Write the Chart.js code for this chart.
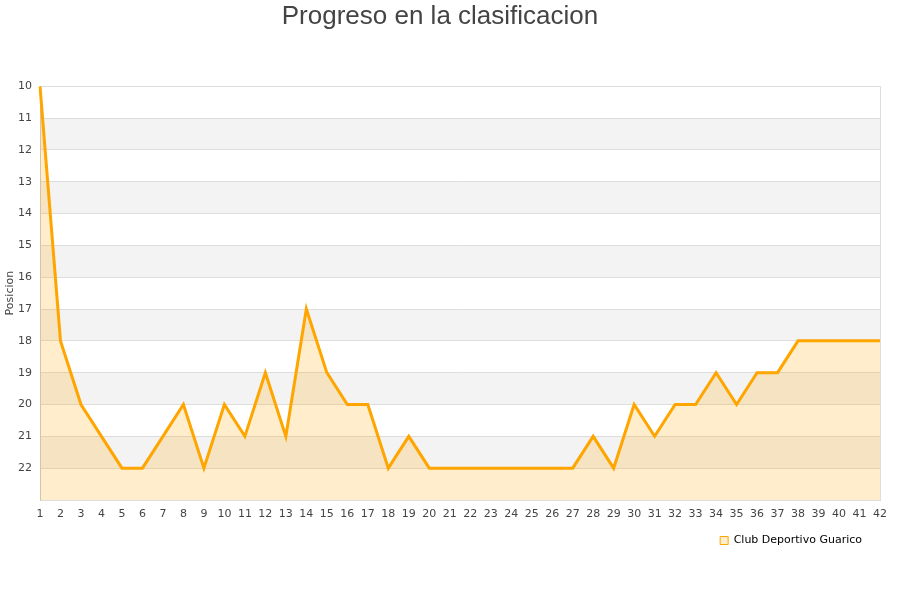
<!DOCTYPE html>
<html>
<head>
<meta charset="utf-8">
<script src="https://cdn.jsdelivr.net/npm/chart.js@4/dist/chart.umd.min.js"></script>
<style>
    html, body { margin: 0; padding: 0; background: #fff; }
    #wrap { width: 900px; height: 600px; }
</style>
</head>
<body>
<div id="wrap"><canvas id="posChart" width="900" height="600"></canvas></div>
<script>
// Jornadas (x axis)
const jornadas = [1, 2, 3, 4, 5, 6, 7, 8, 9, 10, 11, 12, 13, 14, 15, 16, 17, 18, 19, 20, 21,
    22, 23, 24, 25, 26, 27, 28, 29, 30, 31, 32, 33, 34, 35, 36, 37, 38, 39, 40, 41, 42];
// Posicion of the team after each jornada
const posiciones = [10, 18, 20, 21, 22, 22, 21, 20, 22, 20, 21, 19, 21, 17, 19, 20, 20, 22, 21, 22, 22,
    22, 22, 22, 22, 22, 22, 21, 22, 20, 21, 20, 20, 19, 20, 19, 19, 18, 18, 18, 18, 18];
const equipo = "Club Deportivo Guarico";
const posMin = 10;
const posMax = 23;

// alternating grey bands behind the plot
const bandsPlugin = {
    id: "bands",
    beforeDraw(chart) {
        const { ctx, chartArea, scales } = chart;
        const y = scales.y;
        ctx.save();
        ctx.fillStyle = "#f3f3f3";
        for (let v = posMin + 1; v < posMax; v += 2) {
            const top = y.getPixelForValue(v);
            const bottom = y.getPixelForValue(v + 1);
            ctx.fillRect(chartArea.left, top, chartArea.right - chartArea.left, bottom - top);
        }
        ctx.restore();
    },
    beforeDatasetsDraw(chart) {
        const { ctx, chartArea } = chart;
        ctx.save();
        ctx.strokeStyle = "#dddddd";
        ctx.lineWidth = 1;
        ctx.beginPath();
        ctx.moveTo(chartArea.right + 0.5, chartArea.top);
        ctx.lineTo(chartArea.right + 0.5, chartArea.bottom);
        ctx.stroke();
        ctx.restore();
    }
};

document.addEventListener("DOMContentLoaded", function () {
    const ctx = document.getElementById("posChart").getContext("2d");

    new Chart(ctx, {
        type: "line",
        data: {
            labels: jornadas,
            datasets: [
                {
                    label: equipo,
                    data: posiciones,
                    borderColor: "#ffa500",
                    backgroundColor: "rgba(255, 165, 0, 0.2)",
                    borderWidth: 3,
                    pointRadius: 0,
                    tension: 0,
                    fill: "start",
                },
            ],
        },
        options: {
            responsive: false,
            animation: false,
            layout: {
                padding: { top: 1, left: 0, right: 20, bottom: 44 },
            },
            plugins: {
                title: {
                    display: true,
                    text: "Progreso en la clasificacion",
                    color: "#444444",
                    font: { family: "'Liberation Sans', Arial, sans-serif", size: 26, weight: "normal" },
                    padding: { top: 0, bottom: 54 },
                },
                legend: {
                    display: true,
                    position: "bottom",
                    align: "end",
                    labels: {
                        color: "#000000",
                        boxWidth: 8,
                        boxHeight: 8,
                        padding: 18,
                        font: { family: "'DejaVu Sans', sans-serif", size: 11 },
                        generateLabels(chart) {
                            const items = Chart.defaults.plugins.legend.labels.generateLabels(chart);
                            items.forEach(function (it) { it.lineWidth = 1; });
                            return items;
                        },
                    },
                },
                tooltip: { enabled: false },
            },
            scales: {
                x: {
                    offset: false,
                    grid: { display: false },
                    border: { color: "#dddddd" },
                    ticks: {
                        color: "#444444",
                        font: { family: "'DejaVu Sans', sans-serif", size: 11 },
                        maxRotation: 0,
                        autoSkip: false,
                        padding: 0,
                    },
                    afterFit(scale) { scale.height = 17; },
                },
                y: {
                    reverse: true,
                    min: posMin,
                    max: posMax,
                    grid: { color: "#dddddd", drawTicks: false },
                    border: { color: "#cccccc" },
                    ticks: {
                        stepSize: 1,
                        color: "#444444",
                        font: { family: "'DejaVu Sans', sans-serif", size: 11 },
                        padding: 8,
                        callback: function (v) { return v === posMax ? "" : v; },
                    },
                    title: {
                        display: true,
                        text: "Posicion",
                        color: "#444444",
                        font: { family: "'DejaVu Sans', sans-serif", size: 11 },
                        padding: { top: 4, bottom: 0 },
                    },
                    afterFit(scale) { scale.width = 40; },
                },
            },
        },
        plugins: [bandsPlugin],
    });
});
</script>
</body>
</html>
